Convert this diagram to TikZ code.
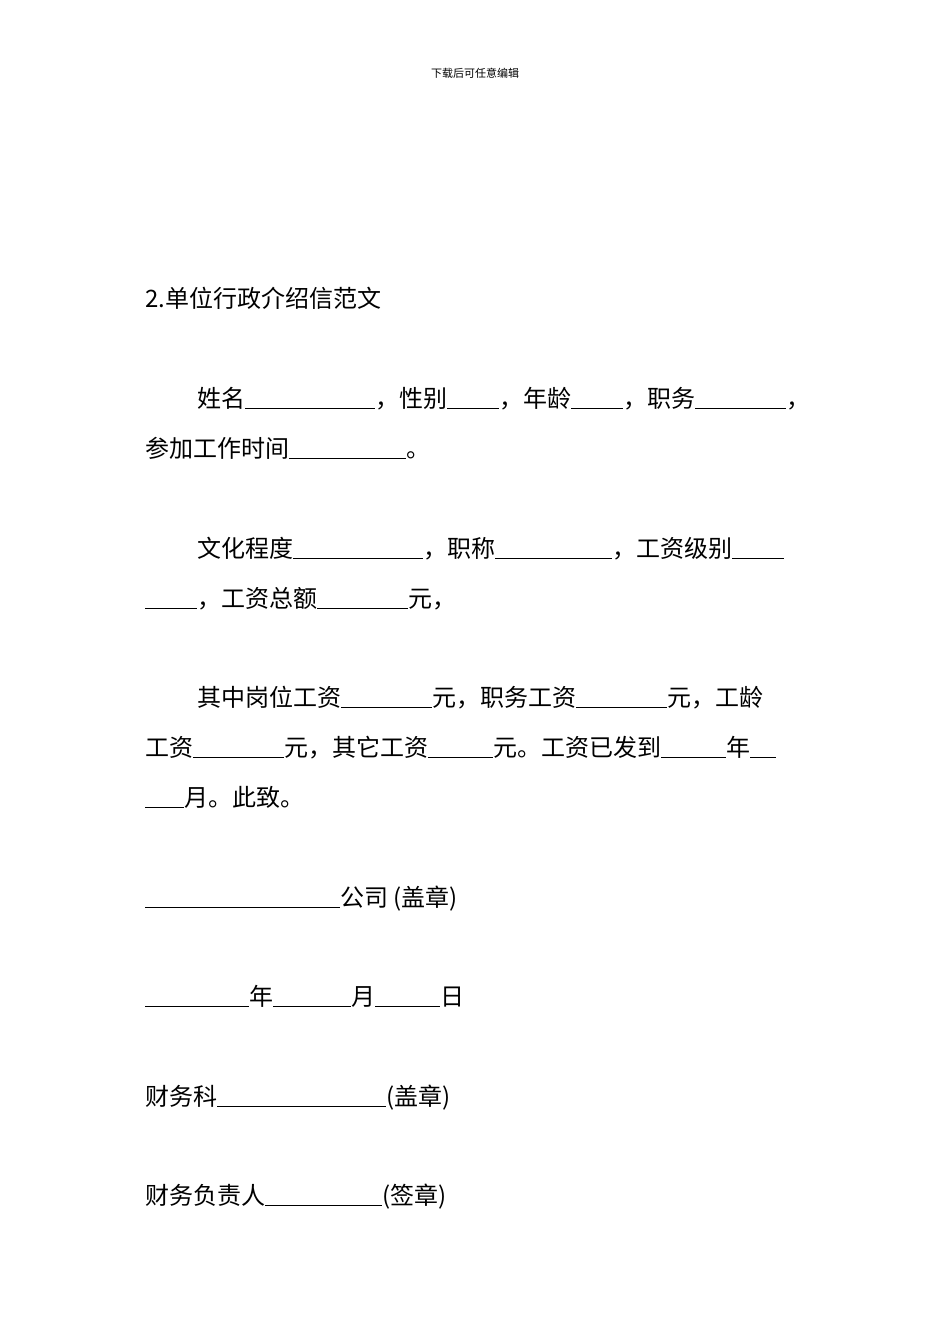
\documentclass[tikz,border=0pt]{standalone}
\usepackage{fontspec}
\setmainfont{Noto Sans CJK SC}
\newcommand{\ul}[1]{\rule[-2pt]{\dimexpr #1\dimexpr 13pt\relax\relax}{0.8pt}}
\begin{document}
\begin{tikzpicture}[x=1pt,y=1pt,
  ln/.style={anchor=base west,inner sep=0pt,font=\fontsize{24}{24}\selectfont}]
\useasboundingbox (0,0) rectangle (950,-1344);
\node[font=\fontsize{11}{11}\selectfont] (hdr) at (475,-73) {下载后可任意编辑};
\node[ln] (t) at (145,-307) {2.单位行政介绍信范文};
\node[ln] (a1) at (197,-407) {姓名\ul{10}，性别\ul{4}，年龄\ul{4}，职务\ul{7}，};
\node[ln] (a2) at (145,-457) {参加工作时间\ul{9}。};
\node[ln] (b1) at (197,-557) {文化程度\ul{10}，职称\ul{9}，工资级别\ul{4}};
\node[ln] (b2) at (145,-607) {\ul{4}，工资总额\ul{7}元，};
\node[ln] (c1) at (197,-706) {其中岗位工资\ul{7}元，职务工资\ul{7}元，工龄};
\node[ln] (c2) at (145,-756) {工资\ul{7}元，其它工资\ul{5}元。工资已发到\ul{5}年\ul{2}};
\node[ln] (c3) at (145,-806) {\ul{3}月。此致。};
\node[ln] (d) at (145,-906) {\ul{15}公司 (盖章)};
\node[ln] (e) at (145,-1005) {\ul{8}年\ul{6}月\ul{5}日};
\node[ln] (f) at (145,-1105) {财务科\ul{13}(盖章)};
\node[ln] (g) at (145,-1204) {财务负责人\ul{9}(签章)};
\end{tikzpicture}
\end{document}
